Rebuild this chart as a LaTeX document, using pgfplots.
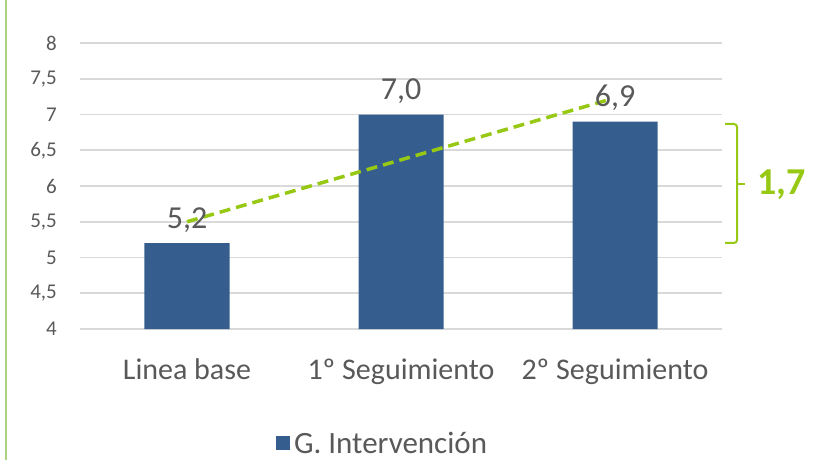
\documentclass[border=0pt]{standalone}
\usepackage{fontspec}
\setmainfont{Carlito}
\usepackage{pgfplots}
\pgfplotsset{compat=1.18}

\definecolor{barblue}{RGB}{53,94,143}
\definecolor{lime}{RGB}{150,200,20}
\definecolor{limelight}{RGB}{170,210,130}
\definecolor{txtgray}{RGB}{89,89,89}
\definecolor{gridgray}{RGB}{217,217,217}

\begin{document}
\begin{tikzpicture}
  \begin{axis}[
      at={(0,0)}, anchor=south west,
      scale only axis,
      width=642bp, height=286bp,
      ybar, bar width=85bp,
      xmin=-0.5, xmax=2.5,
      ymin=4, ymax=8,
      ytick={4,4.5,...,8},
      xtick={0,1,2},
      xticklabels={Linea base, 1º Seguimiento, 2º Seguimiento},
      ymajorgrids,
      major grid style={draw=gridgray, line width=1.8bp},
      axis line style={draw=none},
      major tick length=0pt,
      tick style={draw=none},
      /pgf/number format/assume math mode=true,
      yticklabel style={/pgf/number format/use comma, anchor=east,
        inner sep=0pt, xshift=-23bp, text=txtgray,
        font=\fontsize{21bp}{24bp}\selectfont},
      xticklabel style={anchor=base, inner sep=0pt, yshift=-50bp,
        text=txtgray, font=\fontsize{30bp}{34bp}\selectfont},
      clip=false,
      legend style={draw=none, fill=none, at={(0.305,-0.400)}, anchor=west,
        inner sep=0pt, text=txtgray, font=\fontsize{31bp}{34bp}\selectfont,
        nodes={inner xsep=4bp, inner ysep=0pt}},
      legend image code/.code={\fill[barblue] (0bp,-7bp) rectangle (14bp,7bp);},
    ]
    \addplot[fill=barblue, draw=none,
      nodes near coords={\pgfmathprintnumber[fixed,fixed zerofill,precision=1,use comma]{\pgfplotspointmeta}},
      every node near coord/.append style={anchor=base, inner sep=0pt, yshift=15bp,
        text=txtgray, font=\fontsize{32bp}{36bp}\selectfont}]
      coordinates {(0,5.2) (1,7.0) (2,6.9)};
    \addlegendentry{G. Intervención}
    \addplot[sharp plot, draw=lime, line width=3.5bp, dash pattern=on 11bp off 6bp, forget plot]
      coordinates {(0,5.5) (1.963,7.2)};
  \end{axis}
  % bracket with the gain
  \draw[lime, line width=2bp, rounded corners=3bp]
    (645bp,205bp) -- (657bp,205bp) -- (657bp,86bp) -- (645bp,86bp);
  \draw[lime, line width=2bp] (657bp,145bp) -- (665bp,145bp);
  \node[anchor=west, inner sep=0pt, text=lime, font=\fontsize{38bp}{40bp}\selectfont\bfseries]
    at (677bp,144bp) {1,7};
  % left border line
  \draw[limelight, line width=2bp] (-74bp,-131bp) -- (-74bp,329bp);
  \pgfresetboundingbox
  \path (-80bp,-131bp) rectangle (748bp,329bp);
\end{tikzpicture}
\end{document}
